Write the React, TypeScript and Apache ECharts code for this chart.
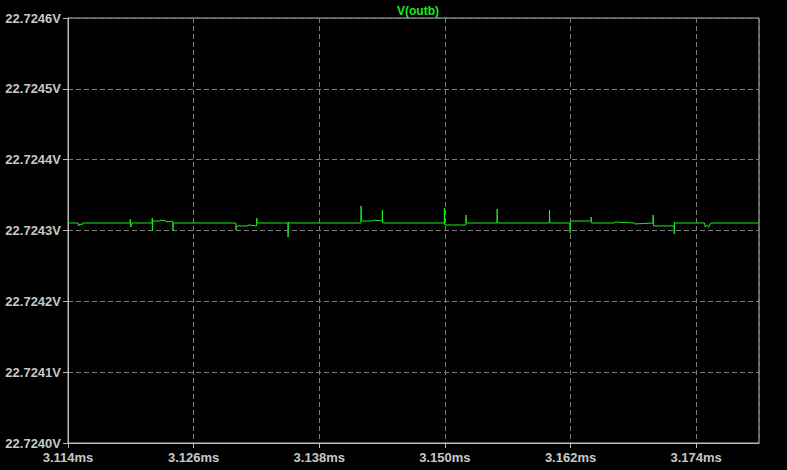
import React, { useEffect, useRef } from "react";
import * as echarts from "echarts";

const seriesName = "V(outb)";
const xTicksMs = [3.114, 3.126, 3.138, 3.15, 3.162, 3.174];
const xMin = 3.114;
const xMax = 3.18;
const yMin = 22.724;
const yMax = 22.7246;

// time in ms
const timeMs = [
  3.114, 3.11496, 3.115, 3.11515, 3.11534, 3.1154,
  3.11992, 3.11995, 3.12, 3.12011,
  3.12203, 3.12205, 3.12207, 3.1221, 3.1228, 3.12284, 3.1234, 3.12344, 3.124,
  3.12403, 3.12406,
  3.13003, 3.13005, 3.13008, 3.1312, 3.13124, 3.13201,
  3.13203, 3.13206,
  3.135, 3.13502, 3.13505, 3.13508,
  3.14197, 3.14199, 3.14202, 3.1431, 3.14314, 3.14401,
  3.14403, 3.14406,
  3.14993, 3.14995, 3.14998, 3.152,
  3.15202, 3.15205,
  3.15497, 3.15499, 3.15502,
  3.15997, 3.15999, 3.16002,
  3.16194, 3.16196, 3.16199, 3.16395,
  3.16397, 3.164, 3.1662, 3.16624, 3.1681, 3.16814,
  3.16987, 3.16989, 3.16992, 3.17188,
  3.1719, 3.17193, 3.17196,
  3.1748, 3.17486, 3.175, 3.1752, 3.17533, 3.1754,
  3.18,
];

// voltage in V
const voltageV = [
  22.7243106, 22.7243106, 22.7243064, 22.7243092, 22.7243078, 22.7243106,
  22.7243106, 22.724316, 22.7243049, 22.7243106,
  22.7243106, 22.7243177, 22.7242993, 22.7243134, 22.7243134, 22.7243148, 22.7243134, 22.724312, 22.7243134,
  22.7242993, 22.7243106,
  22.7243106, 22.7243007, 22.7243064, 22.7243064, 22.7243078, 22.7243064,
  22.7243177, 22.7243106,
  22.7243106, 22.7242908, 22.724312, 22.7243106,
  22.7243106, 22.7243346, 22.7243134, 22.7243134, 22.7243148, 22.7243134,
  22.7243289, 22.7243106,
  22.7243106, 22.7243318, 22.7243078, 22.7243078,
  22.7243219, 22.7243106,
  22.7243106, 22.7243304, 22.7243106,
  22.7243106, 22.7243289, 22.7243106,
  22.7243106, 22.7242965, 22.7243134, 22.7243134,
  22.7243191, 22.7243106, 22.7243106, 22.724312, 22.7243106, 22.7243092,
  22.7243106, 22.7243219, 22.7243064, 22.7243064,
  22.7242951, 22.724312, 22.7243106,
  22.7243106, 22.7243049, 22.7243078, 22.7243049, 22.7243092, 22.7243106,
  22.7243106,
];

const GREEN = "#1ee81e";
const LABEL = "#c8c8c8";
const FRAME = "#bdbdbd";
const GRIDC = "#7a7a7a";
const FONT = "Liberation Sans, Arial, sans-serif";

export default function App() {
  const ref = useRef<HTMLDivElement>(null);
  useEffect(() => {
    if (!ref.current) return;
    const chart = echarts.init(ref.current, null, { renderer: "svg" });
    const data = timeMs.map((t, i) => [t, voltageV[i]]);
    chart.setOption({
      animation: false,
      backgroundColor: "#000000",
      title: {
        text: seriesName,
        left: 413,
        textAlign: "center",
        top: 0,
        textStyle: {
          color: GREEN,
          fontSize: 12,
          fontWeight: "bold",
          fontFamily: FONT,
        },
      },
      grid: {
        left: 68,
        top: 18,
        right: 28,
        bottom: 27,
        show: true,
        borderColor: FRAME,
        borderWidth: 1,
        backgroundColor: "#000000",
      },
      xAxis: {
        type: "value",
        min: xMin,
        max: xMax,
        interval: 0.012,
        axisLine: { show: true, lineStyle: { color: FRAME, width: 1 } },
        axisTick: { show: true, length: 5, lineStyle: { color: FRAME } },
        splitLine: {
          show: true,
          lineStyle: { color: GRIDC, type: [5, 3], width: 1 },
        },
        axisLabel: {
          color: LABEL,
          fontSize: 13,
          fontWeight: "bold",
          fontFamily: FONT,
          margin: 8,
          showMaxLabel: false,
          formatter: (v: number) => {
            const hit = xTicksMs.find((t) => Math.abs(t - v) < 1e-6);
            return hit !== undefined ? hit.toFixed(3) + "ms" : "";
          },
        },
      },
      yAxis: {
        type: "value",
        min: yMin,
        max: yMax,
        interval: 0.0001,
        axisLine: { show: true, lineStyle: { color: FRAME, width: 1 } },
        axisTick: { show: true, length: 5, lineStyle: { color: FRAME } },
        splitLine: {
          show: true,
          lineStyle: { color: GRIDC, type: [5, 3], width: 1 },
        },
        axisLabel: {
          color: LABEL,
          fontSize: 13,
          fontWeight: "bold",
          fontFamily: FONT,
          margin: 7,
          formatter: (v: number) => v.toFixed(4) + "V",
        },
      },
      series: [
        {
          name: seriesName,
          type: "line",
          data,
          showSymbol: false,
          symbol: "none",
          lineStyle: { color: GREEN, width: 1 },
          z: 5,
        },
      ],
    });
    return () => chart.dispose();
  }, []);
  return (
    <div
      ref={ref}
      style={{ position: "fixed", left: 0, top: 0, width: 787, height: 470, background: "#000" }}
    />
  );
}
